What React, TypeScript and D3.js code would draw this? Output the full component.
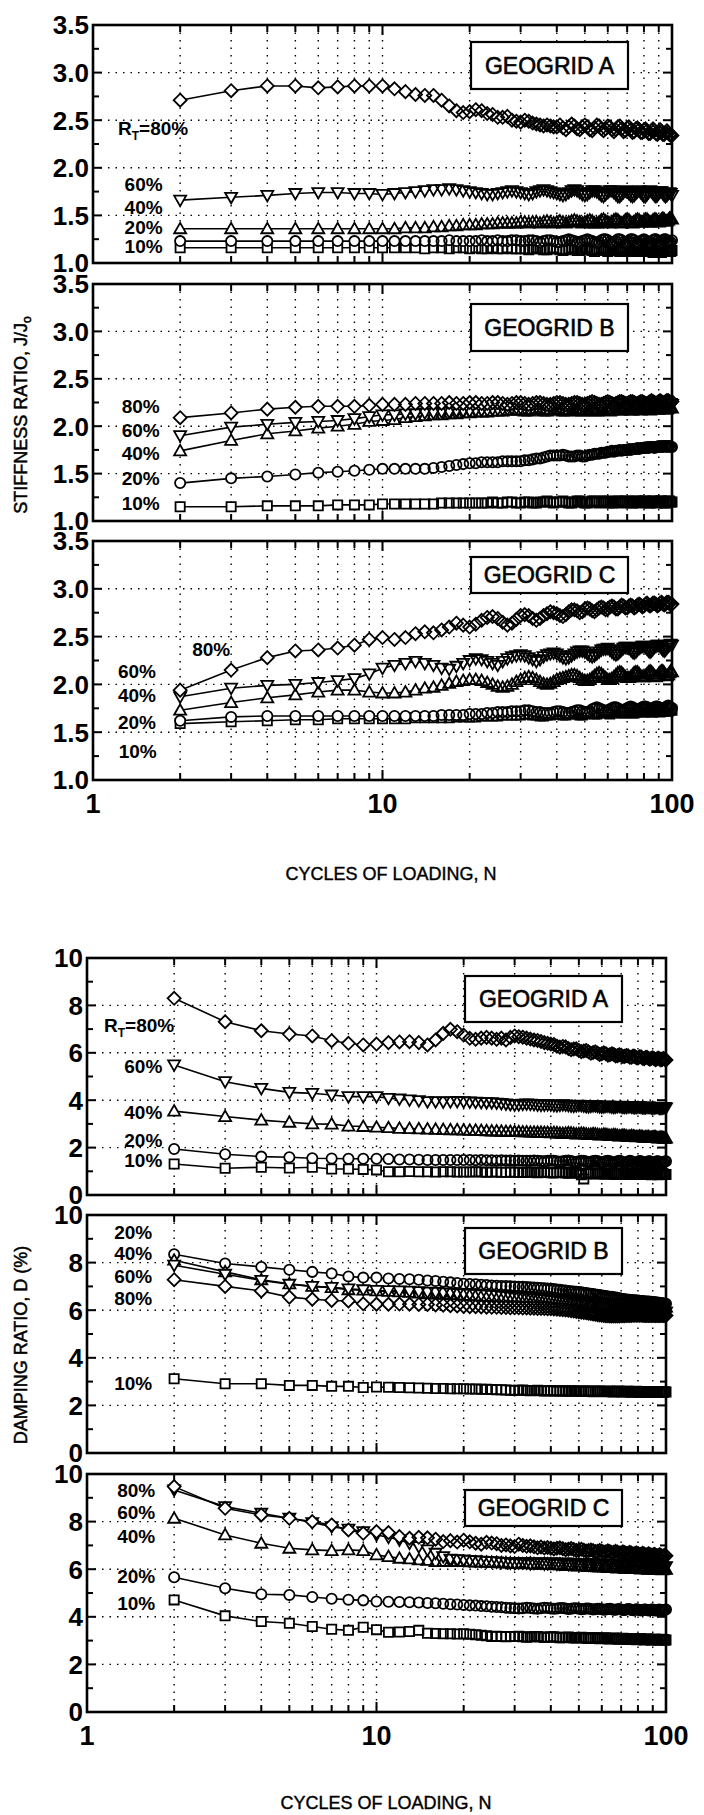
// Stiffness ratio and damping ratio vs cycles of loading for geogrids A, B, C
import React from 'react';
import * as d3 from 'd3';

// cycles of loading, N (one reading per cycle)
const CYCLES = [
  2, 3, 4, 5, 6, 7, 8, 9, 10,
  11, 12, 13, 14, 15, 16, 17, 18, 19, 20,
  21, 22, 23, 24, 25, 26, 27, 28, 29, 30,
  31, 32, 33, 34, 35, 36, 37, 38, 39, 40,
  41, 42, 43, 44, 45, 46, 47, 48, 49, 50,
  51, 52, 53, 54, 55, 56, 57, 58, 59, 60,
  61, 62, 63, 64, 65, 66, 67, 68, 69, 70,
  71, 72, 73, 74, 75, 76, 77, 78, 79, 80,
  81, 82, 83, 84, 85, 86, 87, 88, 89, 90,
  91, 92, 93, 94, 95, 96, 97, 98, 99, 100,
];

// ---- stiffness ratio J/Jo ----
const STIFF_A_80 = [
  2.71, 2.81, 2.86, 2.86, 2.84, 2.85, 2.86, 2.86, 2.86,
  2.83, 2.80, 2.77, 2.76, 2.76, 2.71, 2.65, 2.60, 2.58, 2.59,
  2.61, 2.60, 2.57, 2.56, 2.53, 2.53, 2.54, 2.50, 2.49, 2.48,
  2.50, 2.49, 2.47, 2.46, 2.45, 2.44, 2.45, 2.44, 2.43, 2.43,
  2.45, 2.42, 2.40, 2.43, 2.46, 2.44, 2.41, 2.40, 2.43, 2.45,
  2.43, 2.40, 2.39, 2.42, 2.45, 2.44, 2.41, 2.39, 2.41, 2.44,
  2.43, 2.40, 2.38, 2.40, 2.43, 2.44, 2.41, 2.38, 2.39, 2.42,
  2.43, 2.40, 2.37, 2.38, 2.41, 2.42, 2.40, 2.37, 2.37, 2.40,
  2.41, 2.39, 2.36, 2.36, 2.39, 2.41, 2.39, 2.36, 2.35, 2.38,
  2.40, 2.38, 2.35, 2.35, 2.37, 2.39, 2.37, 2.35, 2.34, 2.34,
];
const STIFF_A_60 = [
  1.66, 1.69, 1.71, 1.73, 1.74, 1.74, 1.73, 1.73, 1.72,
  1.73, 1.74, 1.75, 1.76, 1.77, 1.77, 1.78, 1.77, 1.76, 1.75,
  1.74, 1.73, 1.72, 1.72, 1.73, 1.74, 1.75, 1.76, 1.75, 1.74,
  1.73, 1.72, 1.73, 1.75, 1.76, 1.77, 1.76, 1.75, 1.74, 1.73,
  1.72, 1.71, 1.72, 1.74, 1.76, 1.77, 1.76, 1.74, 1.72, 1.71,
  1.72, 1.74, 1.76, 1.76, 1.75, 1.73, 1.71, 1.70, 1.72, 1.74,
  1.76, 1.76, 1.74, 1.72, 1.70, 1.70, 1.72, 1.74, 1.76, 1.75,
  1.73, 1.71, 1.70, 1.71, 1.73, 1.75, 1.76, 1.74, 1.72, 1.70,
  1.70, 1.72, 1.74, 1.76, 1.75, 1.73, 1.71, 1.70, 1.71, 1.73,
  1.75, 1.75, 1.73, 1.71, 1.70, 1.71, 1.73, 1.74, 1.73, 1.71,
];
const STIFF_A_40 = [
  1.36, 1.36, 1.36, 1.36, 1.36, 1.36, 1.36, 1.36, 1.36,
  1.36, 1.37, 1.37, 1.37, 1.38, 1.38, 1.39, 1.39, 1.40, 1.40,
  1.40, 1.41, 1.41, 1.41, 1.42, 1.42, 1.42, 1.42, 1.42, 1.43,
  1.43, 1.42, 1.43, 1.43, 1.42, 1.43, 1.44, 1.43, 1.42, 1.43,
  1.44, 1.43, 1.42, 1.43, 1.44, 1.45, 1.44, 1.43, 1.42, 1.43,
  1.44, 1.45, 1.44, 1.42, 1.42, 1.43, 1.45, 1.46, 1.44, 1.43,
  1.42, 1.43, 1.45, 1.46, 1.45, 1.43, 1.42, 1.43, 1.45, 1.46,
  1.45, 1.43, 1.42, 1.43, 1.45, 1.46, 1.45, 1.43, 1.43, 1.44,
  1.46, 1.46, 1.44, 1.43, 1.43, 1.45, 1.46, 1.46, 1.44, 1.43,
  1.44, 1.46, 1.47, 1.46, 1.44, 1.44, 1.45, 1.47, 1.47, 1.46,
];
const STIFF_A_20 = [
  1.23, 1.23, 1.23, 1.23, 1.23, 1.23, 1.23, 1.23, 1.23,
  1.23, 1.23, 1.23, 1.23, 1.23, 1.23, 1.24, 1.23, 1.23, 1.23,
  1.23, 1.24, 1.23, 1.23, 1.24, 1.23, 1.23, 1.24, 1.24, 1.23,
  1.23, 1.24, 1.24, 1.23, 1.22, 1.23, 1.24, 1.24, 1.23, 1.22,
  1.22, 1.23, 1.24, 1.25, 1.24, 1.23, 1.22, 1.22, 1.23, 1.24,
  1.25, 1.24, 1.23, 1.22, 1.21, 1.22, 1.24, 1.25, 1.25, 1.24,
  1.22, 1.21, 1.22, 1.23, 1.25, 1.25, 1.24, 1.22, 1.21, 1.22,
  1.23, 1.25, 1.25, 1.24, 1.22, 1.21, 1.21, 1.23, 1.24, 1.25,
  1.24, 1.22, 1.21, 1.21, 1.22, 1.24, 1.25, 1.25, 1.23, 1.21,
  1.21, 1.22, 1.24, 1.25, 1.25, 1.23, 1.22, 1.21, 1.22, 1.24,
];
const STIFF_A_10 = [
  1.16, 1.16, 1.16, 1.16, 1.16, 1.16, 1.16, 1.16, 1.16,
  1.16, 1.16, 1.16, 1.15, 1.16, 1.16, 1.15, 1.16, 1.16, 1.15,
  1.16, 1.15, 1.15, 1.16, 1.15, 1.15, 1.16, 1.15, 1.15, 1.15,
  1.15, 1.14, 1.15, 1.16, 1.15, 1.14, 1.14, 1.15, 1.16, 1.15,
  1.14, 1.13, 1.14, 1.15, 1.16, 1.15, 1.13, 1.13, 1.14, 1.16,
  1.16, 1.14, 1.13, 1.12, 1.14, 1.15, 1.16, 1.15, 1.13, 1.12,
  1.13, 1.15, 1.16, 1.15, 1.13, 1.12, 1.12, 1.14, 1.16, 1.16,
  1.14, 1.12, 1.12, 1.13, 1.15, 1.16, 1.15, 1.13, 1.12, 1.12,
  1.14, 1.16, 1.16, 1.14, 1.12, 1.11, 1.13, 1.15, 1.16, 1.15,
  1.13, 1.11, 1.12, 1.14, 1.16, 1.16, 1.14, 1.12, 1.12, 1.13,
];

const STIFF_B_80 = [
  2.09, 2.14, 2.18, 2.20, 2.21, 2.21, 2.21, 2.22, 2.23,
  2.23, 2.23, 2.24, 2.24, 2.24, 2.24, 2.25, 2.24, 2.24, 2.25,
  2.25, 2.24, 2.24, 2.25, 2.25, 2.24, 2.23, 2.24, 2.25, 2.25,
  2.24, 2.23, 2.24, 2.25, 2.25, 2.24, 2.23, 2.23, 2.24, 2.25,
  2.25, 2.24, 2.23, 2.23, 2.24, 2.25, 2.25, 2.24, 2.23, 2.23,
  2.24, 2.25, 2.26, 2.25, 2.24, 2.23, 2.23, 2.24, 2.25, 2.26,
  2.25, 2.24, 2.23, 2.24, 2.25, 2.26, 2.26, 2.25, 2.24, 2.24,
  2.25, 2.26, 2.26, 2.25, 2.24, 2.24, 2.25, 2.26, 2.26, 2.25,
  2.24, 2.24, 2.25, 2.26, 2.27, 2.26, 2.25, 2.24, 2.25, 2.26,
  2.27, 2.26, 2.25, 2.25, 2.26, 2.27, 2.27, 2.26, 2.25, 2.26,
];
const STIFF_B_60 = [
  1.90, 1.99, 2.02, 2.04, 2.05, 2.06, 2.08, 2.10, 2.12,
  2.12, 2.13, 2.13, 2.14, 2.14, 2.15, 2.15, 2.16, 2.16, 2.16,
  2.17, 2.17, 2.17, 2.18, 2.18, 2.18, 2.18, 2.19, 2.19, 2.19,
  2.19, 2.18, 2.19, 2.20, 2.20, 2.19, 2.18, 2.19, 2.20, 2.21,
  2.20, 2.19, 2.18, 2.19, 2.20, 2.21, 2.20, 2.19, 2.19, 2.20,
  2.21, 2.21, 2.20, 2.19, 2.19, 2.20, 2.21, 2.22, 2.21, 2.20,
  2.19, 2.20, 2.21, 2.22, 2.22, 2.21, 2.20, 2.20, 2.21, 2.22,
  2.22, 2.21, 2.20, 2.20, 2.21, 2.22, 2.23, 2.22, 2.21, 2.21,
  2.22, 2.23, 2.23, 2.22, 2.21, 2.21, 2.22, 2.23, 2.23, 2.22,
  2.21, 2.22, 2.23, 2.24, 2.23, 2.22, 2.22, 2.23, 2.24, 2.23,
];
const STIFF_B_40 = [
  1.74, 1.85, 1.92, 1.95, 1.98, 2.00, 2.02, 2.05, 2.06,
  2.07, 2.09, 2.10, 2.11, 2.12, 2.12, 2.13, 2.13, 2.14, 2.14,
  2.15, 2.15, 2.15, 2.16, 2.16, 2.16, 2.17, 2.17, 2.17, 2.17,
  2.16, 2.16, 2.17, 2.18, 2.17, 2.16, 2.16, 2.17, 2.18, 2.18,
  2.17, 2.16, 2.16, 2.17, 2.18, 2.18, 2.17, 2.16, 2.16, 2.17,
  2.18, 2.18, 2.17, 2.16, 2.16, 2.17, 2.18, 2.19, 2.18, 2.17,
  2.16, 2.17, 2.18, 2.19, 2.18, 2.17, 2.17, 2.18, 2.19, 2.19,
  2.18, 2.17, 2.17, 2.18, 2.19, 2.19, 2.18, 2.17, 2.18, 2.19,
  2.19, 2.19, 2.18, 2.17, 2.18, 2.19, 2.20, 2.19, 2.18, 2.18,
  2.19, 2.20, 2.20, 2.19, 2.18, 2.18, 2.19, 2.20, 2.20, 2.19,
];
const STIFF_B_20 = [
  1.40, 1.45, 1.47, 1.49, 1.51, 1.52, 1.53, 1.54, 1.55,
  1.55, 1.55, 1.55, 1.55, 1.56, 1.57, 1.58, 1.59, 1.60, 1.61,
  1.61, 1.62, 1.62, 1.62, 1.62, 1.63, 1.63, 1.63, 1.63, 1.63,
  1.64, 1.64, 1.65, 1.66, 1.66, 1.67, 1.68, 1.69, 1.69, 1.69,
  1.69, 1.70, 1.69, 1.68, 1.68, 1.68, 1.69, 1.69, 1.68, 1.68,
  1.69, 1.70, 1.70, 1.71, 1.71, 1.71, 1.72, 1.72, 1.72, 1.73,
  1.73, 1.74, 1.73, 1.74, 1.74, 1.75, 1.74, 1.75, 1.75, 1.75,
  1.76, 1.75, 1.76, 1.76, 1.76, 1.77, 1.76, 1.77, 1.77, 1.77,
  1.77, 1.78, 1.77, 1.78, 1.78, 1.78, 1.77, 1.78, 1.78, 1.79,
  1.78, 1.79, 1.78, 1.79, 1.79, 1.78, 1.79, 1.79, 1.78, 1.78,
];
const STIFF_B_10 = [
  1.15, 1.15, 1.16, 1.16, 1.16, 1.17, 1.17, 1.17, 1.18,
  1.18, 1.18, 1.18, 1.18, 1.18, 1.19, 1.19, 1.19, 1.19, 1.19,
  1.19, 1.19, 1.19, 1.20, 1.19, 1.19, 1.20, 1.20, 1.19, 1.19,
  1.20, 1.20, 1.19, 1.19, 1.20, 1.20, 1.21, 1.20, 1.19, 1.20,
  1.20, 1.21, 1.20, 1.19, 1.19, 1.20, 1.21, 1.21, 1.20, 1.19,
  1.19, 1.20, 1.21, 1.21, 1.20, 1.19, 1.20, 1.21, 1.21, 1.20,
  1.19, 1.19, 1.20, 1.21, 1.21, 1.20, 1.19, 1.20, 1.21, 1.21,
  1.20, 1.19, 1.19, 1.20, 1.21, 1.21, 1.20, 1.19, 1.20, 1.21,
  1.21, 1.20, 1.19, 1.19, 1.20, 1.21, 1.21, 1.20, 1.19, 1.20,
  1.21, 1.21, 1.20, 1.19, 1.19, 1.20, 1.21, 1.21, 1.20, 1.20,
];

const STIFF_C_80 = [
  1.94, 2.15, 2.28, 2.35, 2.36, 2.38, 2.41, 2.47, 2.49,
  2.47, 2.49, 2.53, 2.55, 2.54, 2.57, 2.60, 2.64, 2.62, 2.60,
  2.63, 2.67, 2.70, 2.71, 2.69, 2.65, 2.62, 2.64, 2.68, 2.72,
  2.73, 2.72, 2.69, 2.67, 2.69, 2.72, 2.74, 2.76, 2.75, 2.74,
  2.72, 2.71, 2.73, 2.76, 2.78, 2.78, 2.77, 2.75, 2.76, 2.79,
  2.80, 2.79, 2.77, 2.76, 2.78, 2.80, 2.81, 2.80, 2.78, 2.79,
  2.81, 2.82, 2.81, 2.79, 2.79, 2.81, 2.83, 2.82, 2.80, 2.80,
  2.82, 2.83, 2.82, 2.80, 2.81, 2.83, 2.84, 2.83, 2.81, 2.82,
  2.84, 2.85, 2.83, 2.82, 2.83, 2.85, 2.85, 2.84, 2.82, 2.83,
  2.85, 2.86, 2.84, 2.83, 2.84, 2.86, 2.86, 2.85, 2.83, 2.84,
];
const STIFF_C_60 = [
  1.87, 1.96, 1.99, 2.00, 2.02, 2.04, 2.06, 2.11, 2.17,
  2.20, 2.22, 2.24, 2.22, 2.20, 2.17, 2.16, 2.19, 2.22, 2.25,
  2.27, 2.26, 2.24, 2.22, 2.20, 2.24, 2.27, 2.29, 2.30, 2.31,
  2.30, 2.28, 2.26, 2.24, 2.26, 2.29, 2.31, 2.32, 2.33, 2.32,
  2.30, 2.28, 2.27, 2.28, 2.30, 2.32, 2.34, 2.35, 2.35, 2.34,
  2.32, 2.30, 2.29, 2.30, 2.32, 2.34, 2.36, 2.37, 2.37, 2.38,
  2.36, 2.34, 2.32, 2.31, 2.32, 2.34, 2.36, 2.38, 2.39, 2.39,
  2.38, 2.36, 2.34, 2.33, 2.34, 2.36, 2.38, 2.39, 2.40, 2.40,
  2.39, 2.37, 2.35, 2.34, 2.35, 2.37, 2.39, 2.40, 2.41, 2.41,
  2.40, 2.38, 2.36, 2.35, 2.36, 2.38, 2.40, 2.41, 2.42, 2.41,
];
const STIFF_C_40 = [
  1.73, 1.81, 1.86, 1.89, 1.92, 1.94, 1.94, 1.92, 1.91,
  1.91, 1.92, 1.94, 1.96, 1.97, 1.99, 2.01, 2.03, 2.04, 2.05,
  2.05, 2.04, 2.02, 2.00, 1.98, 1.97, 1.98, 2.00, 2.03, 2.05,
  2.07, 2.08, 2.07, 2.05, 2.03, 2.01, 2.00, 2.01, 2.03, 2.05,
  2.06, 2.07, 2.08, 2.09, 2.10, 2.10, 2.09, 2.07, 2.05, 2.04,
  2.04, 2.05, 2.07, 2.09, 2.11, 2.12, 2.11, 2.09, 2.07, 2.05,
  2.05, 2.06, 2.08, 2.10, 2.12, 2.13, 2.12, 2.10, 2.08, 2.07,
  2.07, 2.08, 2.10, 2.12, 2.13, 2.13, 2.11, 2.09, 2.08, 2.08,
  2.09, 2.11, 2.13, 2.14, 2.13, 2.11, 2.09, 2.08, 2.09, 2.11,
  2.13, 2.14, 2.14, 2.12, 2.10, 2.09, 2.10, 2.12, 2.14, 2.13,
];
const STIFF_C_20 = [
  1.62, 1.66, 1.67, 1.67, 1.67, 1.67, 1.67, 1.67, 1.67,
  1.67, 1.67, 1.67, 1.67, 1.67, 1.68, 1.68, 1.68, 1.68, 1.69,
  1.69, 1.69, 1.70, 1.70, 1.71, 1.71, 1.71, 1.72, 1.72, 1.72,
  1.73, 1.73, 1.72, 1.71, 1.71, 1.70, 1.70, 1.70, 1.71, 1.72,
  1.72, 1.71, 1.70, 1.70, 1.71, 1.72, 1.73, 1.73, 1.72, 1.71,
  1.71, 1.72, 1.74, 1.75, 1.76, 1.75, 1.74, 1.73, 1.72, 1.73,
  1.74, 1.75, 1.76, 1.76, 1.75, 1.74, 1.73, 1.73, 1.74, 1.75,
  1.76, 1.77, 1.76, 1.75, 1.74, 1.73, 1.74, 1.75, 1.76, 1.77,
  1.77, 1.76, 1.75, 1.74, 1.74, 1.75, 1.76, 1.77, 1.77, 1.76,
  1.75, 1.74, 1.74, 1.75, 1.76, 1.77, 1.78, 1.77, 1.76, 1.75,
];
const STIFF_C_10 = [
  1.59, 1.61, 1.62, 1.63, 1.63, 1.64, 1.64, 1.64, 1.64,
  1.64, 1.64, 1.65, 1.65, 1.65, 1.65, 1.65, 1.66, 1.66, 1.66,
  1.66, 1.67, 1.67, 1.67, 1.67, 1.68, 1.68, 1.68, 1.68, 1.68,
  1.69, 1.69, 1.68, 1.68, 1.67, 1.67, 1.68, 1.68, 1.69, 1.69,
  1.69, 1.68, 1.68, 1.69, 1.70, 1.70, 1.69, 1.68, 1.68, 1.69,
  1.70, 1.71, 1.70, 1.69, 1.69, 1.70, 1.71, 1.72, 1.71, 1.70,
  1.69, 1.70, 1.71, 1.72, 1.72, 1.71, 1.70, 1.70, 1.71, 1.72,
  1.72, 1.71, 1.70, 1.70, 1.71, 1.72, 1.73, 1.72, 1.71, 1.71,
  1.72, 1.73, 1.73, 1.72, 1.71, 1.71, 1.72, 1.73, 1.73, 1.72,
  1.71, 1.72, 1.73, 1.74, 1.73, 1.72, 1.72, 1.73, 1.74, 1.73,
];

// ---- damping ratio D (%) ----
const DAMP_A_80 = [
  8.30, 7.31, 6.93, 6.79, 6.71, 6.51, 6.40, 6.33, 6.37,
  6.43, 6.46, 6.47, 6.43, 6.33, 6.54, 6.82, 6.99, 6.89, 6.75,
  6.61, 6.57, 6.62, 6.65, 6.62, 6.57, 6.62, 6.54, 6.65, 6.71,
  6.68, 6.66, 6.62, 6.58, 6.54, 6.52, 6.48, 6.43, 6.40, 6.37,
  6.35, 6.28, 6.24, 6.27, 6.25, 6.18, 6.13, 6.16, 6.17, 6.10,
  6.05, 6.08, 6.10, 6.04, 5.98, 6.01, 6.04, 5.99, 5.93, 5.96,
  6.00, 5.96, 5.90, 5.92, 5.96, 5.93, 5.87, 5.88, 5.92, 5.90,
  5.84, 5.85, 5.89, 5.87, 5.81, 5.81, 5.86, 5.85, 5.79, 5.78,
  5.83, 5.83, 5.77, 5.75, 5.80, 5.81, 5.76, 5.73, 5.77, 5.79,
  5.75, 5.71, 5.74, 5.78, 5.74, 5.70, 5.72, 5.76, 5.73, 5.70,
];
const DAMP_A_60 = [
  5.49, 4.78, 4.50, 4.33, 4.29, 4.22, 4.15, 4.15, 4.15,
  4.08, 4.05, 4.01, 3.98, 3.94, 3.94, 3.93, 3.94, 3.95, 3.94,
  3.93, 3.92, 3.91, 3.90, 3.90, 3.88, 3.86, 3.84, 3.82, 3.80,
  3.81, 3.83, 3.84, 3.83, 3.82, 3.80, 3.79, 3.80, 3.81, 3.80,
  3.78, 3.77, 3.79, 3.81, 3.80, 3.78, 3.76, 3.75, 3.77, 3.79,
  3.78, 3.76, 3.74, 3.73, 3.75, 3.77, 3.77, 3.75, 3.73, 3.72,
  3.73, 3.75, 3.76, 3.74, 3.72, 3.71, 3.72, 3.74, 3.75, 3.73,
  3.71, 3.70, 3.71, 3.73, 3.74, 3.72, 3.70, 3.69, 3.70, 3.72,
  3.73, 3.71, 3.69, 3.68, 3.69, 3.71, 3.72, 3.70, 3.68, 3.67,
  3.68, 3.70, 3.71, 3.69, 3.67, 3.66, 3.67, 3.69, 3.70, 3.68,
];
const DAMP_A_40 = [
  3.54, 3.31, 3.16, 3.07, 3.00, 2.99, 2.91, 2.89, 2.86,
  2.84, 2.81, 2.80, 2.79, 2.78, 2.77, 2.76, 2.75, 2.75, 2.74,
  2.73, 2.73, 2.72, 2.71, 2.70, 2.70, 2.69, 2.68, 2.68, 2.67,
  2.67, 2.66, 2.66, 2.65, 2.65, 2.64, 2.64, 2.63, 2.63, 2.62,
  2.63, 2.62, 2.60, 2.59, 2.60, 2.62, 2.61, 2.59, 2.57, 2.58,
  2.60, 2.59, 2.57, 2.55, 2.56, 2.58, 2.57, 2.55, 2.53, 2.54,
  2.56, 2.55, 2.53, 2.51, 2.52, 2.54, 2.53, 2.51, 2.49, 2.50,
  2.52, 2.51, 2.49, 2.47, 2.48, 2.50, 2.49, 2.47, 2.45, 2.46,
  2.48, 2.47, 2.45, 2.43, 2.44, 2.46, 2.45, 2.43, 2.42, 2.43,
  2.45, 2.44, 2.42, 2.40, 2.41, 2.43, 2.42, 2.40, 2.39, 2.40,
];
const DAMP_A_20 = [
  1.94, 1.72, 1.62, 1.59, 1.55, 1.54, 1.53, 1.53, 1.53,
  1.52, 1.50, 1.50, 1.49, 1.48, 1.48, 1.48, 1.48, 1.48, 1.48,
  1.48, 1.47, 1.48, 1.47, 1.47, 1.46, 1.47, 1.46, 1.46, 1.45,
  1.46, 1.45, 1.44, 1.45, 1.46, 1.45, 1.43, 1.42, 1.44, 1.46,
  1.45, 1.42, 1.40, 1.42, 1.45, 1.46, 1.43, 1.40, 1.39, 1.42,
  1.45, 1.44, 1.41, 1.38, 1.39, 1.43, 1.45, 1.43, 1.39, 1.37,
  1.39, 1.43, 1.45, 1.42, 1.38, 1.36, 1.38, 1.42, 1.44, 1.42,
  1.38, 1.35, 1.37, 1.41, 1.44, 1.42, 1.37, 1.35, 1.36, 1.40,
  1.43, 1.42, 1.38, 1.35, 1.35, 1.39, 1.42, 1.42, 1.38, 1.35,
  1.35, 1.38, 1.42, 1.42, 1.39, 1.35, 1.34, 1.37, 1.41, 1.42,
];
const DAMP_A_10 = [
  1.31, 1.13, 1.17, 1.14, 1.17, 1.10, 1.10, 1.08, 1.06,
  0.98, 0.98, 0.99, 0.98, 0.98, 0.97, 0.98, 0.98, 0.97, 0.97,
  0.97, 0.98, 0.97, 0.96, 0.97, 0.97, 0.96, 0.96, 0.97, 0.96,
  0.96, 0.95, 0.96, 0.97, 0.96, 0.94, 0.95, 0.97, 0.96, 0.94,
  0.93, 0.95, 0.97, 0.96, 0.93, 0.92, 0.94, 0.96, 0.95, 0.92,
  0.85, 0.68, 0.90, 0.94, 0.93, 0.90, 0.89, 0.92, 0.94, 0.92,
  0.89, 0.88, 0.91, 0.94, 0.93, 0.89, 0.87, 0.90, 0.93, 0.93,
  0.90, 0.87, 0.88, 0.92, 0.93, 0.91, 0.87, 0.86, 0.89, 0.92,
  0.92, 0.89, 0.86, 0.87, 0.91, 0.92, 0.90, 0.86, 0.85, 0.88,
  0.91, 0.91, 0.88, 0.85, 0.86, 0.90, 0.91, 0.89, 0.86, 0.87,
];

const DAMP_B_80 = [
  7.28, 7.00, 6.81, 6.55, 6.46, 6.41, 6.39, 6.27, 6.25,
  6.25, 6.26, 6.25, 6.24, 6.24, 6.22, 6.21, 6.19, 6.18, 6.16,
  6.15, 6.15, 6.14, 6.13, 6.12, 6.12, 6.11, 6.11, 6.10, 6.10,
  6.10, 6.09, 6.09, 6.08, 6.08, 6.07, 6.07, 6.07, 6.06, 6.06,
  6.05, 6.04, 6.03, 6.02, 6.01, 6.00, 5.98, 5.97, 5.95, 5.93,
  5.92, 5.90, 5.89, 5.87, 5.86, 5.84, 5.83, 5.81, 5.80, 5.79,
  5.78, 5.77, 5.77, 5.76, 5.76, 5.76, 5.76, 5.76, 5.76, 5.77,
  5.77, 5.77, 5.78, 5.78, 5.78, 5.78, 5.79, 5.79, 5.79, 5.79,
  5.79, 5.79, 5.79, 5.78, 5.78, 5.78, 5.78, 5.78, 5.78, 5.78,
  5.78, 5.78, 5.78, 5.78, 5.78, 5.78, 5.78, 5.78, 5.78, 5.78,
];
const DAMP_B_60 = [
  7.89, 7.51, 7.25, 7.09, 7.00, 6.96, 6.90, 6.86, 6.83,
  6.82, 6.81, 6.80, 6.78, 6.76, 6.75, 6.73, 6.72, 6.70, 6.69,
  6.68, 6.67, 6.65, 6.64, 6.62, 6.61, 6.59, 6.58, 6.56, 6.55,
  6.54, 6.53, 6.51, 6.50, 6.49, 6.47, 6.46, 6.45, 6.43, 6.42,
  6.41, 6.40, 6.39, 6.37, 6.36, 6.35, 6.34, 6.32, 6.30, 6.27,
  6.26, 6.25, 6.24, 6.22, 6.21, 6.20, 6.19, 6.17, 6.16, 6.15,
  6.14, 6.13, 6.12, 6.11, 6.10, 6.09, 6.08, 6.07, 6.06, 6.05,
  6.04, 6.03, 6.02, 6.02, 6.01, 6.00, 6.00, 5.99, 5.99, 5.98,
  5.98, 5.97, 5.97, 5.96, 5.96, 5.96, 5.95, 5.95, 5.95, 5.94,
  5.94, 5.94, 5.93, 5.93, 5.93, 5.93, 5.92, 5.92, 5.92, 5.92,
];
const DAMP_B_40 = [
  8.10, 7.61, 7.28, 7.11, 7.00, 6.95, 6.86, 6.84, 6.81,
  6.79, 6.77, 6.75, 6.72, 6.69, 6.68, 6.67, 6.65, 6.64, 6.62,
  6.61, 6.60, 6.59, 6.58, 6.57, 6.56, 6.55, 6.54, 6.54, 6.53,
  6.52, 6.52, 6.51, 6.50, 6.49, 6.48, 6.47, 6.46, 6.45, 6.44,
  6.43, 6.42, 6.42, 6.41, 6.40, 6.39, 6.38, 6.37, 6.35, 6.34,
  6.33, 6.32, 6.31, 6.30, 6.30, 6.29, 6.28, 6.27, 6.26, 6.25,
  6.25, 6.24, 6.24, 6.23, 6.23, 6.22, 6.22, 6.21, 6.21, 6.20,
  6.20, 6.20, 6.19, 6.19, 6.18, 6.18, 6.18, 6.17, 6.17, 6.17,
  6.16, 6.16, 6.16, 6.15, 6.15, 6.15, 6.15, 6.14, 6.14, 6.14,
  6.14, 6.14, 6.13, 6.13, 6.13, 6.13, 6.13, 6.12, 6.12, 6.13,
];
const DAMP_B_20 = [
  8.35, 7.96, 7.82, 7.70, 7.61, 7.54, 7.42, 7.37, 7.37,
  7.33, 7.31, 7.30, 7.28, 7.25, 7.23, 7.20, 7.17, 7.14, 7.11,
  7.10, 7.09, 7.07, 7.06, 7.04, 7.03, 7.02, 7.02, 7.01, 7.00,
  6.99, 6.98, 6.97, 6.96, 6.95, 6.94, 6.93, 6.92, 6.91, 6.90,
  6.89, 6.87, 6.86, 6.84, 6.83, 6.81, 6.80, 6.79, 6.77, 6.76,
  6.75, 6.73, 6.72, 6.70, 6.69, 6.68, 6.66, 6.65, 6.64, 6.62,
  6.61, 6.60, 6.58, 6.57, 6.56, 6.54, 6.53, 6.52, 6.50, 6.48,
  6.47, 6.46, 6.45, 6.44, 6.44, 6.43, 6.42, 6.42, 6.41, 6.41,
  6.40, 6.39, 6.39, 6.38, 6.37, 6.37, 6.36, 6.35, 6.35, 6.34,
  6.33, 6.33, 6.32, 6.31, 6.31, 6.30, 6.29, 6.28, 6.28, 6.27,
];
const DAMP_B_10 = [
  3.12, 2.91, 2.91, 2.84, 2.84, 2.80, 2.80, 2.75, 2.77,
  2.76, 2.75, 2.74, 2.73, 2.72, 2.71, 2.71, 2.70, 2.70, 2.70,
  2.69, 2.69, 2.68, 2.68, 2.67, 2.66, 2.66, 2.65, 2.64, 2.63,
  2.64, 2.65, 2.63, 2.62, 2.63, 2.64, 2.62, 2.61, 2.62, 2.63,
  2.61, 2.60, 2.61, 2.62, 2.60, 2.59, 2.60, 2.62, 2.61, 2.59,
  2.58, 2.60, 2.61, 2.60, 2.58, 2.57, 2.59, 2.61, 2.60, 2.58,
  2.57, 2.58, 2.60, 2.59, 2.57, 2.56, 2.58, 2.60, 2.59, 2.57,
  2.56, 2.57, 2.59, 2.59, 2.57, 2.55, 2.56, 2.58, 2.59, 2.57,
  2.55, 2.55, 2.57, 2.58, 2.57, 2.55, 2.54, 2.56, 2.58, 2.57,
  2.55, 2.54, 2.55, 2.57, 2.57, 2.55, 2.54, 2.55, 2.57, 2.56,
];

const DAMP_C_80 = [
  9.47, 8.56, 8.28, 8.14, 8.00, 7.86, 7.65, 7.51, 7.58,
  7.54, 7.37, 7.30, 7.34, 7.32, 7.26, 7.16, 7.20, 7.14, 7.22,
  7.15, 7.09, 7.05, 7.13, 7.10, 7.07, 7.00, 7.02, 6.98, 6.95,
  7.05, 7.00, 6.96, 6.98, 6.94, 6.90, 6.93, 6.89, 6.91, 6.88,
  6.85, 6.88, 6.90, 6.86, 6.82, 6.84, 6.87, 6.83, 6.79, 6.81,
  6.84, 6.80, 6.76, 6.78, 6.81, 6.78, 6.74, 6.75, 6.79, 6.76,
  6.72, 6.73, 6.77, 6.74, 6.70, 6.71, 6.75, 6.72, 6.68, 6.69,
  6.73, 6.70, 6.66, 6.67, 6.71, 6.68, 6.64, 6.65, 6.69, 6.66,
  6.62, 6.63, 6.67, 6.64, 6.60, 6.61, 6.65, 6.62, 6.58, 6.59,
  6.63, 6.60, 6.56, 6.57, 6.61, 6.58, 6.54, 6.55, 6.59, 6.56,
];
const DAMP_C_60 = [
  9.33, 8.63, 8.35, 8.14, 7.96, 7.79, 7.68, 7.58, 7.44,
  7.34, 7.23, 7.09, 6.95, 6.81, 6.67, 6.53, 6.42, 6.40, 6.39,
  6.37, 6.36, 6.34, 6.33, 6.32, 6.31, 6.29, 6.28, 6.26, 6.25,
  6.27, 6.29, 6.26, 6.23, 6.25, 6.28, 6.26, 6.22, 6.24, 6.27,
  6.25, 6.21, 6.22, 6.26, 6.25, 6.20, 6.21, 6.25, 6.24, 6.19,
  6.20, 6.24, 6.23, 6.18, 6.19, 6.23, 6.22, 6.17, 6.18, 6.22,
  6.21, 6.16, 6.17, 6.21, 6.20, 6.15, 6.16, 6.20, 6.19, 6.14,
  6.15, 6.19, 6.18, 6.13, 6.14, 6.18, 6.17, 6.12, 6.13, 6.17,
  6.16, 6.11, 6.12, 6.16, 6.15, 6.10, 6.11, 6.15, 6.14, 6.09,
  6.10, 6.14, 6.13, 6.08, 6.09, 6.13, 6.12, 6.08, 6.09, 6.11,
];
const DAMP_C_40 = [
  8.14, 7.44, 7.09, 6.88, 6.81, 6.78, 6.81, 6.78, 6.60,
  6.53, 6.46, 6.43, 6.39, 6.37, 6.32, 6.33, 6.32, 6.32, 6.32,
  6.31, 6.30, 6.30, 6.29, 6.29, 6.28, 6.27, 6.27, 6.26, 6.25,
  6.24, 6.22, 6.24, 6.26, 6.23, 6.20, 6.21, 6.24, 6.22, 6.19,
  6.18, 6.21, 6.22, 6.18, 6.15, 6.17, 6.20, 6.18, 6.14, 6.13,
  6.16, 6.17, 6.14, 6.11, 6.12, 6.15, 6.14, 6.10, 6.09, 6.12,
  6.13, 6.10, 6.07, 6.08, 6.11, 6.11, 6.07, 6.05, 6.08, 6.10,
  6.08, 6.04, 6.04, 6.07, 6.08, 6.05, 6.02, 6.03, 6.06, 6.06,
  6.03, 6.00, 6.02, 6.05, 6.04, 6.01, 5.99, 6.01, 6.04, 6.03,
  6.00, 5.98, 6.00, 6.03, 6.02, 5.99, 5.97, 5.99, 6.01, 5.99,
];
const DAMP_C_20 = [
  5.66, 5.20, 4.95, 4.92, 4.83, 4.76, 4.72, 4.69, 4.64,
  4.63, 4.62, 4.61, 4.60, 4.58, 4.57, 4.55, 4.53, 4.52, 4.50,
  4.48, 4.47, 4.45, 4.44, 4.42, 4.41, 4.40, 4.38, 4.37, 4.36,
  4.35, 4.36, 4.38, 4.37, 4.35, 4.34, 4.36, 4.38, 4.37, 4.35,
  4.34, 4.35, 4.37, 4.37, 4.35, 4.33, 4.34, 4.36, 4.36, 4.34,
  4.32, 4.33, 4.35, 4.35, 4.33, 4.31, 4.32, 4.34, 4.34, 4.32,
  4.30, 4.31, 4.33, 4.34, 4.32, 4.30, 4.30, 4.32, 4.33, 4.31,
  4.29, 4.29, 4.31, 4.33, 4.32, 4.29, 4.28, 4.30, 4.32, 4.31,
  4.28, 4.27, 4.29, 4.31, 4.31, 4.28, 4.27, 4.28, 4.31, 4.31,
  4.28, 4.26, 4.27, 4.30, 4.31, 4.29, 4.26, 4.27, 4.30, 4.31,
];
const DAMP_C_10 = [
  4.71, 4.04, 3.80, 3.73, 3.59, 3.48, 3.43, 3.56, 3.46,
  3.35, 3.36, 3.38, 3.43, 3.31, 3.30, 3.29, 3.29, 3.28, 3.29,
  3.27, 3.25, 3.23, 3.20, 3.17, 3.18, 3.17, 3.16, 3.17, 3.17,
  3.18, 3.16, 3.14, 3.15, 3.17, 3.17, 3.15, 3.13, 3.14, 3.16,
  3.16, 3.14, 3.12, 3.12, 3.14, 3.15, 3.13, 3.11, 3.11, 3.13,
  3.14, 3.12, 3.10, 3.09, 3.11, 3.13, 3.12, 3.09, 3.08, 3.10,
  3.12, 3.11, 3.08, 3.07, 3.09, 3.11, 3.10, 3.07, 3.06, 3.08,
  3.10, 3.09, 3.06, 3.05, 3.07, 3.09, 3.08, 3.05, 3.04, 3.06,
  3.08, 3.08, 3.05, 3.03, 3.05, 3.07, 3.07, 3.04, 3.02, 3.04,
  3.06, 3.06, 3.04, 3.02, 3.03, 3.05, 3.06, 3.04, 3.02, 3.03,
];

// axis ticks
const GRID_N = [2, 3, 4, 5, 6, 7, 8, 9, 10, 20, 30, 40, 50, 60, 70, 80, 90];
const X_LABELS = [1, 10, 100];
const STIFF_MAJOR = [1.0, 1.5, 2.0, 2.5, 3.0, 3.5];
const STIFF_MINOR = [1.25, 1.75, 2.25, 2.75, 3.25];
const DAMP_MAJOR = [0, 2, 4, 6, 8, 10];
const DAMP_MINOR = [1, 3, 5, 7, 9];

const FONT = '"Liberation Sans", Arial, Helvetica, sans-serif';

type Marker = 'diamond' | 'tdown' | 'tup' | 'circle' | 'square';
type Series = { values: number[]; marker: Marker };
type Label = { text: string; n: number; v: number; start?: boolean; rt?: boolean };

// draw order: 10% at the back, 80% on top
const order = (s80: number[], s60: number[], s40: number[], s20: number[], s10: number[]): Series[] => [
  { values: s10, marker: 'square' },
  { values: s20, marker: 'circle' },
  { values: s40, marker: 'tup' },
  { values: s60, marker: 'tdown' },
  { values: s80, marker: 'diamond' },
];

const markerPath = (m: Marker) => {
  switch (m) {
    case 'diamond': return 'M0,-6.5L6.5,0L0,6.5L-6.5,0Z';
    case 'tdown': return 'M-6,-4.5L6,-4.5L0,6Z';
    case 'tup': return 'M-6,4.5L6,4.5L0,-6Z';
    case 'square': return 'M-4.6,-4.6H4.6V4.6H-4.6Z';
    default: return d3.symbol(d3.symbolCircle, 82)() || '';
  }
};

interface PanelProps {
  x0: number; x1: number; y0: number; y1: number;
  domain: [number, number];
  majors: number[]; minors: number[];
  fmt: (v: number) => string;
  series: Series[];
  labels: Label[];
  box: { text: string; dy: number; h: number };
  showX?: boolean;
}

const Panel: React.FC<PanelProps> = ({ x0, x1, y0, y1, domain, majors, minors, fmt, series, labels, box, showX }) => {
  const x = d3.scaleLog().domain([1, 100]).range([x0, x1]);
  const y = d3.scaleLinear().domain(domain).range([y1, y0]);
  const line = d3.line<number>().x((_, i) => x(CYCLES[i])).y((d) => y(d));
  const inner = majors.filter((v) => v > domain[0] && v < domain[1]);
  const boxW = 157;
  const boxX = x1 - 44 - boxW;
  const boxY = y0 + box.dy;

  return (
    <g>
      {/* dotted grid */}
      {GRID_N.map((n) => (
        <line key={'gx' + n} x1={x(n)} x2={x(n)} y1={y0} y2={y1}
          stroke="#000" strokeWidth={1.4} strokeDasharray="1.5 6" />
      ))}
      {inner.map((v) => (
        <line key={'gy' + v} x1={x0} x2={x1} y1={y(v)} y2={y(v)}
          stroke="#000" strokeWidth={1.4} strokeDasharray="1.5 6" />
      ))}

      {/* series: line, white marker bodies, then all outlines so the dense end reads as a dark band */}
      {series.map((s, si) => {
        const pts = s.values.map((v, i) => `translate(${x(CYCLES[i])},${y(v)})`);
        const d = markerPath(s.marker);
        return (
          <g key={'s' + si}>
            <path d={line(s.values) || ''} fill="none" stroke="#000" strokeWidth={1.6} />
            {pts.map((t, i) => (
              <path key={'f' + i} d={d} transform={t} fill="#fff" stroke="none" />
            ))}
            {pts.map((t, i) => (
              <path key={'o' + i} d={d} transform={t} fill="none" stroke="#000" strokeWidth={1.8} />
            ))}
          </g>
        );
      })}

      {/* frame */}
      <rect x={x0} y={y0} width={x1 - x0} height={y1 - y0} fill="none" stroke="#000" strokeWidth={2.6} />

      {/* x ticks, top and bottom, pointing inward */}
      {GRID_N.map((n) => {
        const len = n === 10 ? 10 : 7;
        return (
          <g key={'tx' + n}>
            <line x1={x(n)} x2={x(n)} y1={y1} y2={y1 - len} stroke="#000" strokeWidth={2} />
            <line x1={x(n)} x2={x(n)} y1={y0} y2={y0 + len} stroke="#000" strokeWidth={2} />
          </g>
        );
      })}
      {/* y ticks, left and right */}
      {[...inner.map((v) => ({ v, len: 9 })), ...minors.map((v) => ({ v, len: 6 }))].map((t) => (
        <g key={'ty' + t.v}>
          <line x1={x0} x2={x0 + t.len} y1={y(t.v)} y2={y(t.v)} stroke="#000" strokeWidth={2} />
          <line x1={x1} x2={x1 - t.len} y1={y(t.v)} y2={y(t.v)} stroke="#000" strokeWidth={2} />
        </g>
      ))}

      {/* y tick labels */}
      {majors.map((v) => (
        <text key={'ly' + v} x={x0 - 4} y={y(v)} dy="0.36em" textAnchor="end"
          fontFamily={FONT} fontSize={26} fontWeight="bold" fill="#000">{fmt(v)}</text>
      ))}

      {showX && X_LABELS.map((n) => (
        <text key={'lx' + n} x={x(n)} y={y1 + 33} textAnchor="middle"
          fontFamily={FONT} fontSize={27} fontWeight="bold" fill="#000">{n}</text>
      ))}

      {/* series labels */}
      {labels.map((l) => (
        <text key={l.text + l.v} x={x(l.n)} y={y(l.v)} dy="0.36em"
          textAnchor={l.start ? 'start' : 'end'} fontFamily={FONT} fontSize={19}
          fontWeight="bold" fill="#000">
          {l.rt ? (
            <>
              R<tspan dy={5} fontSize={12}>T</tspan><tspan dy={-5}>{l.text}</tspan>
            </>
          ) : l.text}
        </text>
      ))}

      {/* geogrid box */}
      <rect x={boxX} y={boxY} width={boxW} height={box.h} fill="#fff" stroke="#000" strokeWidth={2.2} />
      <text x={boxX + boxW / 2} y={boxY + box.h / 2} dy="0.36em" textAnchor="middle"
        fontFamily={FONT} fontSize={23} fill="#000" stroke="#000" strokeWidth={0.6}>{box.text}</text>
    </g>
  );
};

const TOP_X: [number, number] = [93, 672];
const BOT_X: [number, number] = [87, 666];
const fmtStiff = (v: number) => v.toFixed(1);
const fmtDamp = (v: number) => String(v);

export default function App() {
  return (
    <svg width={704} height={1815} style={{ position: 'absolute', left: 0, top: 0, background: '#fff' }}>
      {/* ---- stiffness ratio ---- */}
      <Panel x0={TOP_X[0]} x1={TOP_X[1]} y0={25} y1={263} domain={[1, 3.5]}
        majors={STIFF_MAJOR} minors={STIFF_MINOR} fmt={fmtStiff}
        series={order(STIFF_A_80, STIFF_A_60, STIFF_A_40, STIFF_A_20, STIFF_A_10)}
        labels={[
          { text: '=80%', n: 1.22, v: 2.42, start: true, rt: true },
          { text: '60%', n: 1.74, v: 1.83 },
          { text: '40%', n: 1.74, v: 1.59 },
          { text: '20%', n: 1.74, v: 1.38 },
          { text: '10%', n: 1.74, v: 1.18 },
        ]}
        box={{ text: 'GEOGRID A', dy: 17, h: 47 }} />
      <Panel x0={TOP_X[0]} x1={TOP_X[1]} y0={284} y1={521} domain={[1, 3.5]}
        majors={STIFF_MAJOR} minors={STIFF_MINOR} fmt={fmtStiff}
        series={order(STIFF_B_80, STIFF_B_60, STIFF_B_40, STIFF_B_20, STIFF_B_10)}
        labels={[
          { text: '80%', n: 1.7, v: 2.21 },
          { text: '60%', n: 1.7, v: 1.96 },
          { text: '40%', n: 1.7, v: 1.72 },
          { text: '20%', n: 1.7, v: 1.45 },
          { text: '10%', n: 1.7, v: 1.19 },
        ]}
        box={{ text: 'GEOGRID B', dy: 20, h: 47 }} />
      <Panel x0={TOP_X[0]} x1={TOP_X[1]} y0={541} y1={780} domain={[1, 3.5]}
        majors={STIFF_MAJOR} minors={STIFF_MINOR} fmt={fmtStiff}
        series={order(STIFF_C_80, STIFF_C_60, STIFF_C_40, STIFF_C_20, STIFF_C_10)}
        labels={[
          { text: '80%', n: 2.2, v: 2.37, start: true },
          { text: '60%', n: 1.65, v: 2.14 },
          { text: '40%', n: 1.65, v: 1.89 },
          { text: '20%', n: 1.65, v: 1.6 },
          { text: '10%', n: 1.66, v: 1.3 },
        ]}
        box={{ text: 'GEOGRID C', dy: 16, h: 36 }} showX />
      <text transform="translate(27,415) rotate(-90)" textAnchor="middle"
        fontFamily={FONT} fontSize={18} fill="#000" stroke="#000" strokeWidth={0.5}>
        STIFFNESS RATIO, J/J<tspan dy={4} fontSize={12}>o</tspan>
      </text>
      <text x={391} y={880} textAnchor="middle" fontFamily={FONT} fontSize={18}
        fill="#000" stroke="#000" strokeWidth={0.4}>
        CYCLES OF LOADING, N
      </text>

      {/* ---- damping ratio ---- */}
      <Panel x0={BOT_X[0]} x1={BOT_X[1]} y0={958} y1={1195} domain={[0, 10]}
        majors={DAMP_MAJOR} minors={DAMP_MINOR} fmt={fmtDamp}
        series={order(DAMP_A_80, DAMP_A_60, DAMP_A_40, DAMP_A_20, DAMP_A_10)}
        labels={[
          { text: '=80%', n: 1.145, v: 7.17, start: true, rt: true },
          { text: '60%', n: 1.82, v: 5.44 },
          { text: '40%', n: 1.82, v: 3.5 },
          { text: '20%', n: 1.82, v: 2.32 },
          { text: '10%', n: 1.82, v: 1.48 },
        ]}
        box={{ text: 'GEOGRID A', dy: 18, h: 46 }} />
      <Panel x0={BOT_X[0]} x1={BOT_X[1]} y0={1215} y1={1453} domain={[0, 10]}
        majors={DAMP_MAJOR} minors={DAMP_MINOR} fmt={fmtDamp}
        series={order(DAMP_B_80, DAMP_B_60, DAMP_B_40, DAMP_B_20, DAMP_B_10)}
        labels={[
          { text: '20%', n: 1.68, v: 9.29 },
          { text: '40%', n: 1.68, v: 8.4 },
          { text: '60%', n: 1.68, v: 7.44 },
          { text: '80%', n: 1.68, v: 6.51 },
          { text: '10%', n: 1.68, v: 2.94 },
        ]}
        box={{ text: 'GEOGRID B', dy: 13, h: 46 }} />
      <Panel x0={BOT_X[0]} x1={BOT_X[1]} y0={1474} y1={1712} domain={[0, 10]}
        majors={DAMP_MAJOR} minors={DAMP_MINOR} fmt={fmtDamp}
        series={order(DAMP_C_80, DAMP_C_60, DAMP_C_40, DAMP_C_20, DAMP_C_10)}
        labels={[
          { text: '80%', n: 1.72, v: 9.33 },
          { text: '60%', n: 1.72, v: 8.4 },
          { text: '40%', n: 1.72, v: 7.39 },
          { text: '20%', n: 1.72, v: 5.71 },
          { text: '10%', n: 1.72, v: 4.58 },
        ]}
        box={{ text: 'GEOGRID C', dy: 16, h: 36 }} showX />
      <text transform="translate(27,1345) rotate(-90)" textAnchor="middle"
        fontFamily={FONT} fontSize={18} fill="#000" stroke="#000" strokeWidth={0.5}>
        DAMPING RATIO, D (%)
      </text>
      <text x={386} y={1809} textAnchor="middle" fontFamily={FONT} fontSize={18}
        fill="#000" stroke="#000" strokeWidth={0.4}>
        CYCLES OF LOADING, N
      </text>
    </svg>
  );
}
